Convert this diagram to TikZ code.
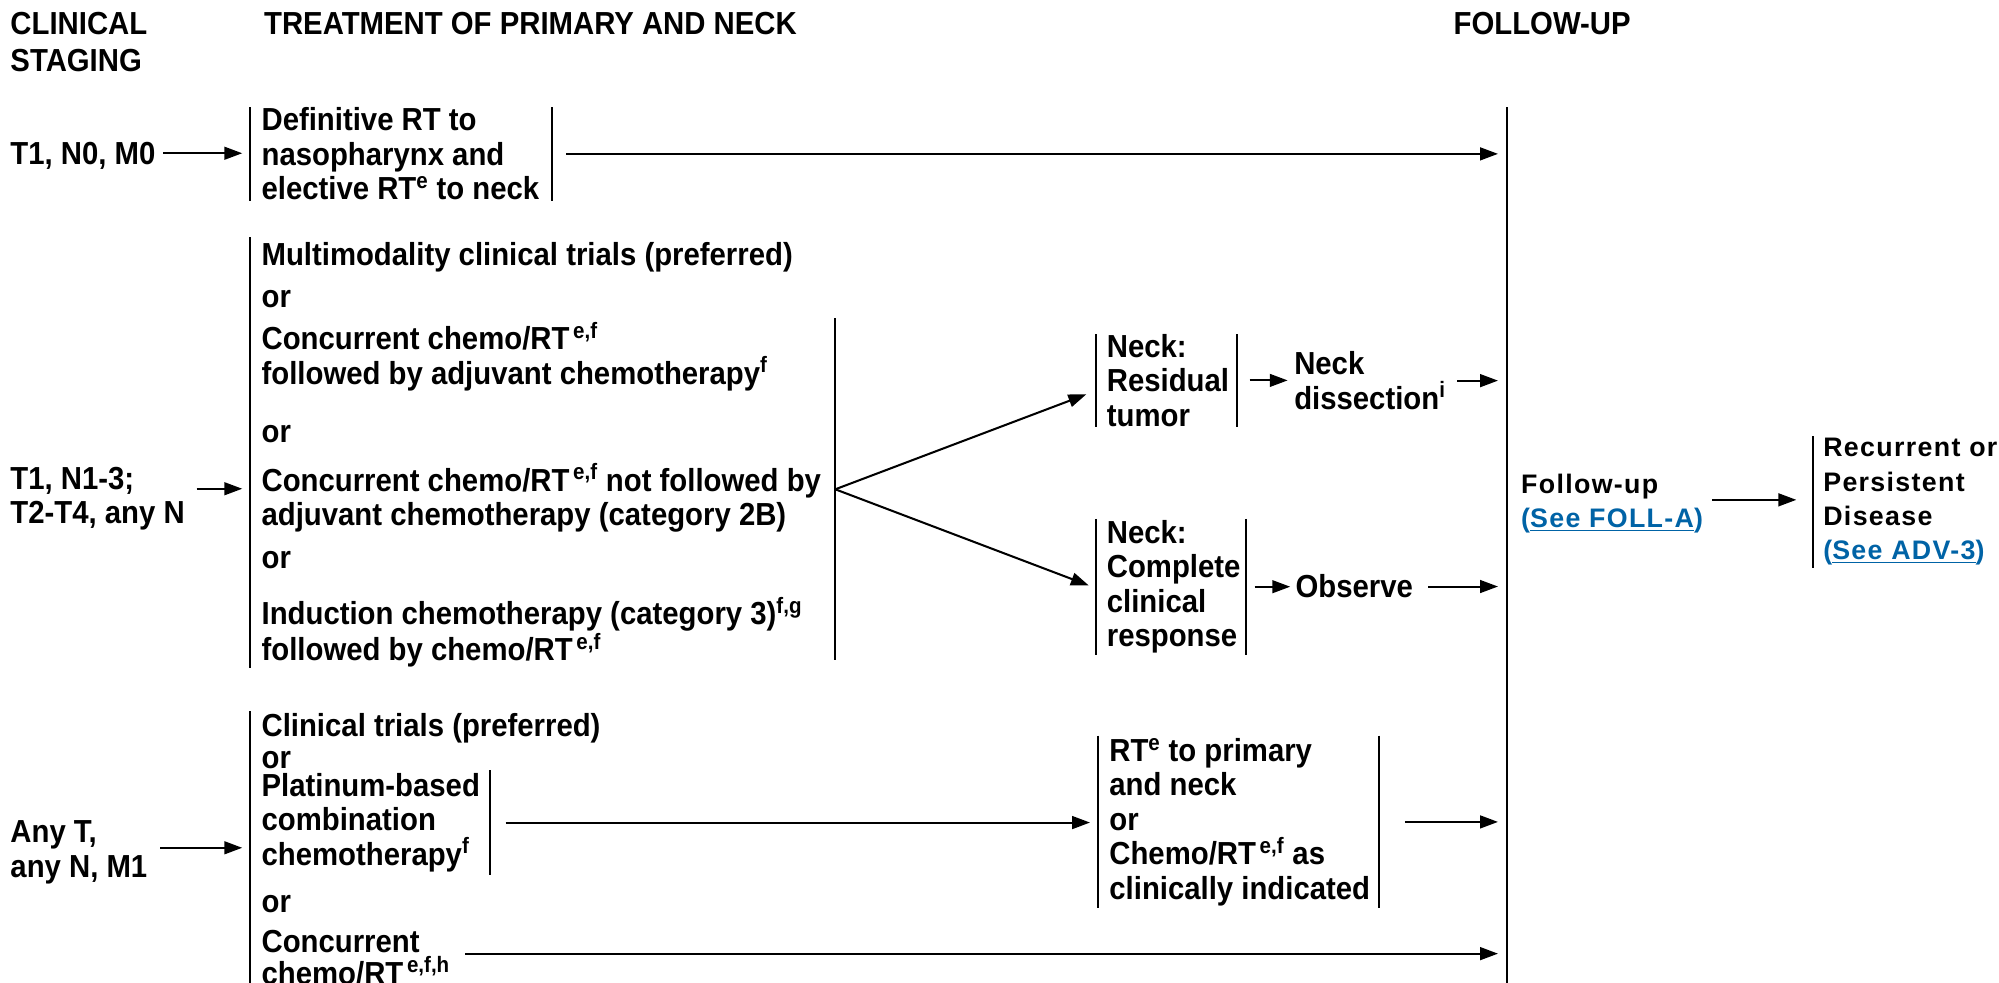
\documentclass[tikz,border=0pt]{standalone}
\usepackage{fontspec}
\setmainfont{Liberation Sans}
\newfontfamily\condfont[FakeStretch=0.92]{Liberation Sans}
\newfontfamily\trackfont[LetterSpace=5]{Liberation Sans}
\usetikzlibrary{arrows.meta,calc}
\definecolor{linkblue}{RGB}{0,99,166}
\newcommand\supr[1]{\textsuperscript{#1}}
\newcommand\seelink[1]{\textcolor{linkblue}{(\underline{#1})}}

\tikzset{
  body/.style={font=\condfont\bfseries\fontsize{25}{27}\selectfont, inner sep=0pt, align=left},
  head/.style={font=\condfont\bfseries\fontsize{25}{29}\selectfont, inner sep=0pt, align=left},
  fu/.style={font=\trackfont\bfseries\fontsize{21}{27}\selectfont, inner sep=0pt, align=left},
  barline/.style={draw, line width=1.6pt},
  % bar along the left edge of a node
  lbar/.style={append after command={(\tikzlastnode.north west) edge[barline] (\tikzlastnode.south west)}},
  % bar at a fixed distance to the right of the node's left edge
  rbarat/.style={append after command={($(\tikzlastnode.north west)+(#1,0)$) edge[barline] ($(\tikzlastnode.south west)+(#1,0)$)}},
  rail/.style={line width=2.2pt},
  arr/.style={line width=1.6pt, -{Triangle[length=14pt,width=10pt]}},
}

\begin{document}
\begin{tikzpicture}[x=1pt,y=-1pt]
\fill[white] (0,0) rectangle (1568,771);
\useasboundingbox (0,0) rectangle (1568,771);

% column headings
\node[head, anchor=base west] (hstage) at (8,56) {CLINICAL\\STAGING};
\node[head, anchor=base west] (htreat) at (207,27) {TREATMENT OF PRIMARY AND NECK};
\node[head, anchor=base west] (hfoll) at (1140,27) {FOLLOW-UP};

% follow-up rail collecting all branches
\coordinate (railtop) at (1182,84);
\coordinate (railbot) at (1182,780);
\draw[rail] (railtop) -- (railbot);

% T1, N0, M0
\node[body, anchor=base west] (t1n0) at (8,129) {T1, N0, M0};
\node[body, lbar, rbarat=237, anchor=north west, inner xsep=9pt, minimum height=73pt] (defrt) at (196,84)
  {Definitive RT to\\nasopharynx and\\elective RT\supr{e} to neck};
\coordinate (a1) at ($(t1n0.east)+(0,-2)$);
\draw[arr, shorten <=6pt, shorten >=6pt] (a1) -- (a1 -| defrt.west);
\draw[arr, shorten <=12pt, shorten >=7pt] (defrt.east) -- (defrt.east -| railtop);

% T1, N1-3; T2-T4, any N
\node[body, anchor=base west] (t1n1) at (8,411) {T1, N1-3;\\T2-T4, any N};
\node[body, lbar, anchor=north west, inner xsep=9pt, minimum height=332pt] (mid) at (196,186)
  {\rule{0pt}{22pt}Multimodality clinical trials (preferred)\\[6pt]or\\[6pt]Concurrent chemo/RT\supr{\,e,f}\\followed by adjuvant chemotherapy\supr{f}\\[19pt]or\\[11pt]Concurrent chemo/RT\supr{\,e,f} not followed by\\adjuvant chemotherapy (category 2B)\\[7pt]or\\[17pt]Induction chemotherapy (category 3)\supr{f,g}\\followed by chemo/RT\supr{\,e,f}};
\node[lbar, anchor=south, minimum height=268pt, minimum width=0pt, inner sep=0pt] (midr) at (655,518) {};
\coordinate (a2) at ($(t1n1.east)+(9,-8)$);
\draw[arr, shorten >=6pt] (a2) -- (a2 -| mid.west);

\node[body, lbar, rbarat=110, anchor=north west, inner xsep=8pt, minimum height=71pt] (resid) at (860,262)
  {Neck:\\Residual\\tumor};
\node[body, lbar, rbarat=117, anchor=north west, inner xsep=8pt, minimum height=106pt] (compl) at (860,407)
  {Neck:\\Complete\\clinical\\response};
\draw[arr] (midr.east) -- ($(resid.west)+(-8,11)$);
\draw[arr] (midr.east) -- ($(compl.west)+(-6,-1)$);

\node[body, anchor=base west] (ndis) at (1015,321) {Neck\\dissection\supr{i}};
\node[body, anchor=base west] (obs) at (1016,469) {Observe};
\draw[arr, shorten <=8pt, shorten >=5pt] (resid.east) -- (resid.east -| ndis.west);
\draw[arr, shorten <=9pt, shorten >=7pt] (ndis.east) -- (ndis.east -| railtop);
\draw[arr, shorten <=3pt, shorten >=4pt] (compl.east) -- (compl.east -| obs.west);
\draw[arr, shorten <=12pt, shorten >=7pt] (obs.east) -- (obs.east -| railtop);

% Any T, any N, M1
\node[body, anchor=base west] (anyt) at (8,688) {Any T,\\any N, M1};
\node[lbar, anchor=north west, minimum height=225pt, minimum width=0pt, inner sep=0pt] (bsys) at (196,558) {};
\coordinate (a3) at ($(anyt.east)+(0,-3.5)$);
\draw[arr, shorten <=10pt, shorten >=6pt] (a3) -- (a3 -| bsys.west);

\node[body, anchor=base west] (bt1) at (205,603) {Clinical trials (preferred)\\[-2pt]or};
\node[body, rbarat=188, anchor=north west, inner xsep=9pt, minimum height=82pt] (plat) at (196,604)
  {Platinum-based\\combination\\chemotherapy\supr{f}};
\node[body, anchor=base west] (bt2) at (205,716) {or};
\node[body, anchor=base west] (bt3) at (205,772) {Concurrent\\[-2pt]chemo/RT\supr{\,e,f,h}};

\node[body, lbar, rbarat=221, anchor=north west, inner xsep=9pt, minimum height=135pt] (rtbox) at (861,577)
  {RT\supr{e} to primary\\and neck\\or\\Chemo/RT\supr{\,e,f} as\\clinically indicated};
\draw[arr, shorten <=11pt, shorten >=6pt] (plat.east) -- (plat.east -| rtbox.west);
\draw[arr, shorten <=18pt, shorten >=7pt] (rtbox.east) -- (rtbox.east -| railtop);
\coordinate (a4) at ($(bt3.east)+(0,-3)$);
\draw[arr, shorten <=12pt, shorten >=7pt] (a4) -- (a4 -| railtop);

% follow-up and recurrence
\node[fu, anchor=base west] (fu) at (1193,414) {Follow-up\\\seelink{See FOLL-A}};
\node[fu, lbar, anchor=north west, inner xsep=8pt, inner ysep=1.5pt] (rec) at (1422,342)
  {Recurrent or\\Persistent\\Disease\\\seelink{See ADV-3}};
\coordinate (a5) at ($(fu.east)+(0,-3)$);
\draw[arr, shorten <=7pt, shorten >=13pt] (a5) -- (a5 -| rec.west);
\end{tikzpicture}
\end{document}
